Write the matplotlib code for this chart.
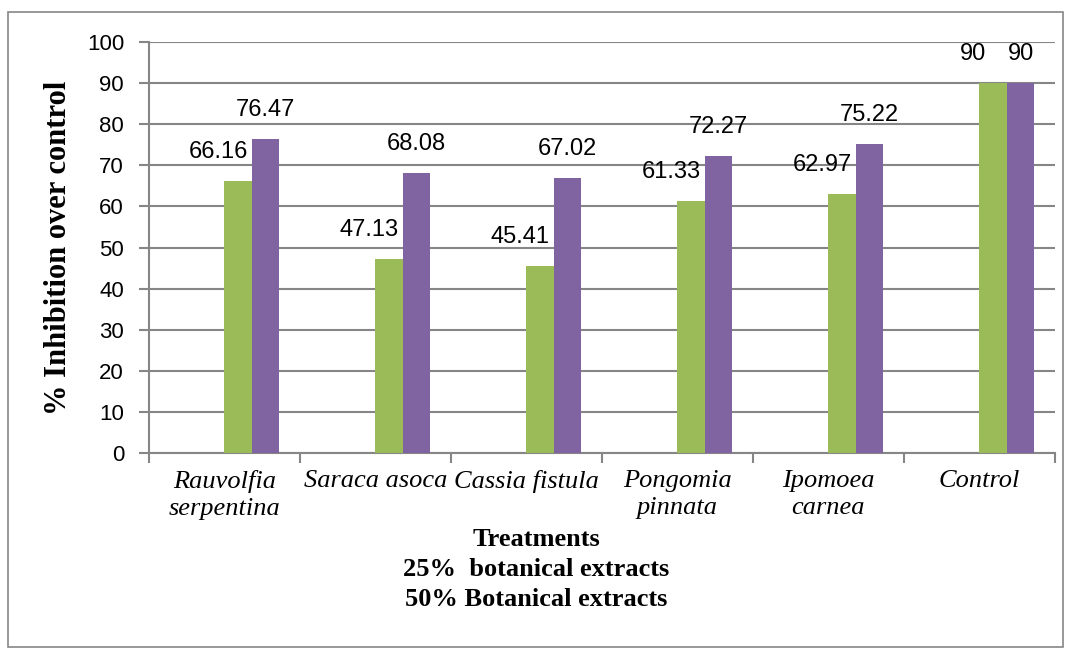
import numpy as np
import matplotlib.pyplot as plt
from matplotlib.patches import Rectangle

categories = ["Rauvolfia\nserpentina", "Saraca asoca", "Cassia fistula",
              "Pongomia\npinnata", "Ipomoea\ncarnea", "Control"]
extract_25 = [66.16, 47.13, 45.41, 61.33, 62.97, 90]
extract_50 = [76.47, 68.08, 67.02, 72.27, 75.22, 90]
label_25 = ["66.16", "47.13", "45.41", "61.33", "62.97", "90"]
label_50 = ["76.47", "68.08", "67.02", "72.27", "75.22", "90"]
y_ticks = list(range(0, 101, 10))

GREEN = "#9BBB59"
PURPLE = "#8064A2"
GRID = "#868686"

fig = plt.figure(figsize=(10.72, 6.54), dpi=100)
ax = fig.add_axes([0.139, 0.307, 0.845, 0.629])

# outer chart border
fig.patches.append(Rectangle((0.0075, 0.01), 0.984, 0.972, transform=fig.transFigure,
                             fill=False, edgecolor=GRID, linewidth=1.2))

x = np.arange(len(categories))
w = 0.182
ax.bar(x + 0.5 * w, extract_25, w, color=GREEN, zorder=3)
ax.bar(x + 1.5 * w, extract_50, w, color=PURPLE, zorder=3)

for xi, v, t in zip(x, extract_25, label_25):
    ax.annotate(t, (xi + 0.5 * w, v), xytext=(-20, 18), textcoords="offset pixels",
                ha="center", va="bottom", fontsize=17, family="Liberation Sans")
for xi, v, t in zip(x, extract_50, label_50):
    ax.annotate(t, (xi + 1.5 * w, v), xytext=(0, 18), textcoords="offset pixels",
                ha="center", va="bottom", fontsize=17, family="Liberation Sans")

ax.set_xlim(-0.5, len(categories) - 0.5)
ax.set_ylim(0, 100)
ax.set_yticks(y_ticks)
ax.set_yticklabels([str(t) for t in y_ticks], fontsize=16, family="Liberation Sans")
ax.grid(axis="y", color=GRID, linewidth=1.5, zorder=0)
ax.set_axisbelow(True)

# category boundaries as ticks
ax.set_xticks(np.arange(-0.5, len(categories) + 0.5, 1))
ax.set_xticklabels([])
ax.set_xticks(x, minor=True)
ax.set_xticklabels(categories, minor=True, fontsize=19, family="Liberation Serif",
                   style="italic", linespacing=1.3, va="top")
ax.tick_params(axis="x", which="minor", length=0, pad=12)
ax.tick_params(axis="x", which="major", length=7, color=GRID, width=1.5)
ax.tick_params(axis="y", length=7, color=GRID, width=1.5, pad=11)

for side in ["top", "right"]:
    ax.spines[side].set_visible(False)
for side in ["left", "bottom"]:
    ax.spines[side].set_color(GRID)
    ax.spines[side].set_linewidth(1.5)

ax.set_ylabel("% Inhibition over control", fontsize=22, fontweight="bold",
              family="Liberation Serif", labelpad=10)

fig.text(0.5, 1 - 540 / 654, "Treatments", ha="center", va="center",
         fontsize=19, fontweight="bold", family="Liberation Serif")
fig.text(0.5, 1 - 570 / 654, "25%  botanical extracts", ha="center", va="center",
         fontsize=19, fontweight="bold", family="Liberation Serif")
fig.text(0.5, 1 - 600 / 654, "50% Botanical extracts", ha="center", va="center",
         fontsize=19, fontweight="bold", family="Liberation Serif")

fig.savefig("out.png", dpi=100)
